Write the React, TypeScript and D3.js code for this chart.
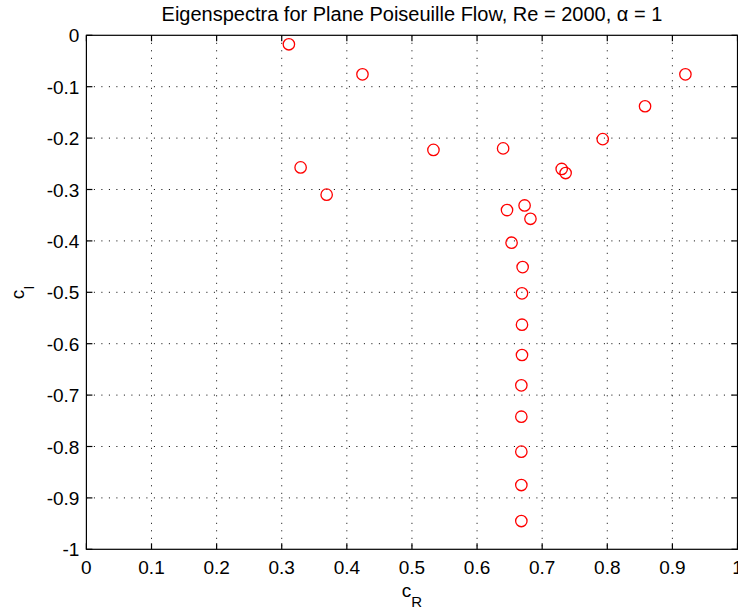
import React from "react";
import * as d3 from "d3";

// Orr–Sommerfeld eigenvalues c = cR + i·cI
const cR = [
  0.311, 0.424, 0.329, 0.369, 0.533, 0.640, 0.730, 0.736, 0.793, 0.858, 0.920,
  0.646, 0.673, 0.682, 0.653, 0.670, 0.669, 0.669, 0.669, 0.668, 0.668, 0.668,
  0.668, 0.668,
];
const cI = [
  -0.0175, -0.076, -0.257, -0.310, -0.223, -0.220, -0.260, -0.268, -0.202,
  -0.138, -0.076, -0.340, -0.331, -0.357, -0.4035, -0.451, -0.502, -0.563,
  -0.622, -0.681, -0.742, -0.81, -0.875, -0.945,
];

const xTicks = [0, 0.1, 0.2, 0.3, 0.4, 0.5, 0.6, 0.7, 0.8, 0.9, 1];
const yTicks = [0, -0.1, -0.2, -0.3, -0.4, -0.5, -0.6, -0.7, -0.8, -0.9, -1];

const W = 738;
const H = 611;
const left = 86.4;
const right = 737.5;
const top = 35.3;
const bottom = 549.3;
const FONT = "'Liberation Sans', Arial, Helvetica, sans-serif";
const TICK = 6;

export default function App() {
  const x = d3.scaleLinear().domain([0, 1]).range([left, right]);
  const y = d3.scaleLinear().domain([-1, 0]).range([bottom, top]);
  const fmt = (v: number) => (v === 0 ? "0" : v === 1 ? "1" : v === -1 ? "-1" : String(v));
  const pts = cR.map((v, i) => [v, cI[i]] as [number, number]);

  return (
    <svg
      width={W}
      height={H}
      style={{ position: "absolute", left: 0, top: 0, background: "#fff" }}
      fontFamily={FONT}
    >
      <rect x={0} y={0} width={W} height={H} fill="#fff" />
      {/* dotted grid */}
      <g stroke="#000" strokeWidth={1} strokeDasharray="1 6.5" fill="none">
        {xTicks.slice(1, -1).map((t) => (
          <line key={"gx" + t} x1={x(t)} x2={x(t)} y1={top} y2={bottom} />
        ))}
        {yTicks.slice(1, -1).map((t) => (
          <line key={"gy" + t} x1={left} x2={right} y1={y(t)} y2={y(t)} />
        ))}
      </g>
      {/* inward ticks on all four sides */}
      <g stroke="#000" strokeWidth={1.2}>
        {xTicks.map((t) => (
          <g key={"tx" + t}>
            <line x1={x(t)} x2={x(t)} y1={bottom} y2={bottom - TICK} />
            <line x1={x(t)} x2={x(t)} y1={top} y2={top + TICK} />
          </g>
        ))}
        {yTicks.map((t) => (
          <g key={"ty" + t}>
            <line x1={left} x2={left + TICK} y1={y(t)} y2={y(t)} />
            <line x1={right} x2={right - TICK} y1={y(t)} y2={y(t)} />
          </g>
        ))}
      </g>
      <rect
        x={left}
        y={top}
        width={right - left}
        height={bottom - top}
        fill="none"
        stroke="#000"
        strokeWidth={1.2}
      />
      {/* eigenvalues */}
      <g fill="none" stroke="#ff0000" strokeWidth={1.3}>
        {pts.map(([a, b], i) => (
          <circle key={i} cx={x(a)} cy={y(b)} r={5.7} />
        ))}
      </g>
      {/* tick labels */}
      <g fontSize={19} fill="#000">
        {xTicks.map((t) => (
          <text key={"lx" + t} x={x(t)} y={bottom + 24.5} textAnchor="middle">
            {fmt(t)}
          </text>
        ))}
        {yTicks.map((t) => (
          <text key={"ly" + t} x={left - 7} y={y(t) + 7} textAnchor="end">
            {fmt(t)}
          </text>
        ))}
      </g>
      {/* title */}
      <text x={(left + right) / 2} y={20.7} textAnchor="middle" fontSize={20} fill="#000">
        Eigenspectra for Plane Poiseuille Flow, Re = 2000, α = 1
      </text>
      {/* axis labels */}
      <text x={(left + right) / 2} y={597} textAnchor="middle" fontSize={19} fill="#000">
        c<tspan fontSize={15} dy={10}>R</tspan>
      </text>
      <text
        transform={`translate(24, ${(top + bottom) / 2}) rotate(-90)`}
        textAnchor="middle"
        fontSize={19}
        fill="#000"
      >
        c<tspan fontSize={15} dy={10}>I</tspan>
      </text>
    </svg>
  );
}
